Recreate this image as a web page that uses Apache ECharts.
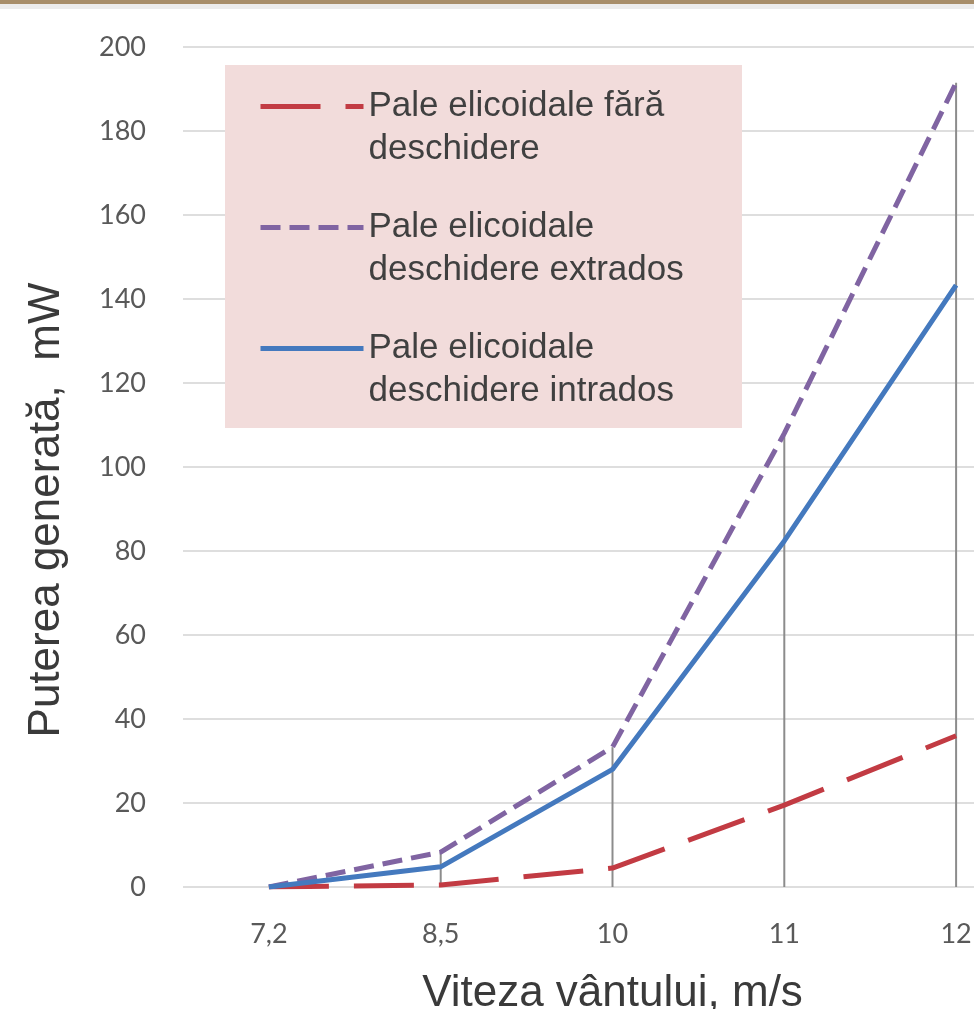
<!DOCTYPE html>
<html>
<head>
<meta charset="utf-8">
<title>Puterea generată</title>
<script src="https://cdn.jsdelivr.net/npm/echarts@6/dist/echarts.min.js"></script>
<style>
  html, body { margin: 0; padding: 0; background: #fff; }
  #chart-line { width: 974px; height: 1009px; }
</style>
</head>
<body>
<div id="chart-line"></div>
<script>
// wind speed categories (m/s)
const categories = ['7,2', '8,5', '10', '11', '12'];

// generated power, mW
const faraDeschidere = [0, 0.5, 4.5, 19.5, 36];
const deschidereExtrados = [0, 8.3, 33.3, 108, 191.5];
const deschidereIntrados = [0, 4.8, 28, 82.4, 143.3];

const seriesNames = [
  'Pale elicoidale fără\ndeschidere',
  'Pale elicoidale\ndeschidere extrados',
  'Pale elicoidale\ndeschidere intrados'
];

// drop lines go from the highest point down to the axis
const dropLines = categories.map(function (c, i) {
  return Math.max(faraDeschidere[i], deschidereExtrados[i], deschidereIntrados[i]);
});

const dom = document.getElementById('chart-line');
const myChart = echarts.init(dom, null, { renderer: 'canvas' });

var option = {
  animation: false,
  backgroundColor: '#fff',
  grid: {
    left: 183,
    width: 859,   // the plot runs past the right edge of the picture
    top: 47,
    bottom: 122,
    outerBoundsMode: 'none'
  },
  legend: {
    data: seriesNames,
    orient: 'vertical',
    left: 258,
    top: 42,
    padding: 0,
    itemGap: -4,
    itemWidth: 103,
    itemHeight: 10,
    z: 4,
    itemStyle: { opacity: 0 },
    lineStyle: { width: 5 },
    // empty first line so the icon sits level with the first text line
    formatter: function (name) {
      return '{s| }\n' + name.split('\n').map(function (t) {
        return '{t|' + t + '}';
      }).join('\n');
    },
    textStyle: {
      fontFamily: 'Liberation Sans',
      fontSize: 35,
      color: '#404040',
      rich: {
        s: { height: 43, lineHeight: 43, fontSize: 10 },
        t: { fontFamily: 'Liberation Sans', fontSize: 35, lineHeight: 43, color: '#404040' }
      }
    }
  },
  xAxis: {
    type: 'category',
    data: categories,
    boundaryGap: true,
    axisLine: { show: false },
    axisTick: { show: false },
    axisLabel: {
      margin: 34,
      fontFamily: 'Lato',
      fontSize: 27,
      color: '#595959'
    },
    name: 'Viteza vântului, m/s',
    nameLocation: 'middle',
    nameGap: 85,
    nameTextStyle: {
      fontFamily: 'Liberation Sans',
      fontSize: 44,
      color: '#3a3a3a'
    }
  },
  yAxis: {
    type: 'value',
    min: 0,
    max: 200,
    interval: 20,
    axisLine: { show: false },
    axisTick: { show: false },
    axisLabel: {
      margin: 37,
      fontFamily: 'Lato',
      fontSize: 27,
      color: '#595959'
    },
    splitLine: {
      lineStyle: { color: '#dedede', width: 2 }
    }
  },
  graphic: [
    // wooden strip at the top edge of the picture
    { type: 'rect', z: 10, shape: { x: 0, y: 0, width: 974, height: 4 }, style: { fill: '#a88e6a' } },
    { type: 'rect', z: 10, shape: { x: 0, y: 4, width: 974, height: 5 }, style: { fill: '#ececec' } },
    // legend box
    { type: 'rect', z: 1, shape: { x: 225, y: 65, width: 517, height: 363 }, style: { fill: '#f2dcdb' } },
    {
      type: 'text',
      z: 5,
      x: 47,
      y: 510,
      rotation: Math.PI / 2,
      style: {
        text: 'Puterea generată,  mW',
        fontFamily: 'Liberation Sans',
        fontSize: 44,
        fill: '#3a3a3a',
        align: 'center',
        verticalAlign: 'middle'
      }
    }
  ],
  series: [
    {
      name: 'drop',
      type: 'bar',
      data: dropLines,
      barWidth: 2,
      silent: true,
      z: 1,
      itemStyle: { color: '#8c8c8c' }
    },
    {
      name: seriesNames[0],
      type: 'line',
      data: faraDeschidere,
      symbol: 'none',
      z: 3,
      color: '#c23b43',
      lineStyle: { color: '#c23b43', width: 5, type: [60, 25] }
    },
    {
      name: seriesNames[1],
      type: 'line',
      data: deschidereExtrados,
      symbol: 'none',
      z: 3,
      color: '#8064a2',
      lineStyle: { color: '#8064a2', width: 5, type: [20, 9] }
    },
    {
      name: seriesNames[2],
      type: 'line',
      data: deschidereIntrados,
      symbol: 'none',
      z: 3,
      color: '#4479be',
      lineStyle: { color: '#4479be', width: 5 }
    }
  ]
};

option && myChart.setOption(option);
window.addEventListener('resize', myChart.resize);
</script>
</body>
</html>
